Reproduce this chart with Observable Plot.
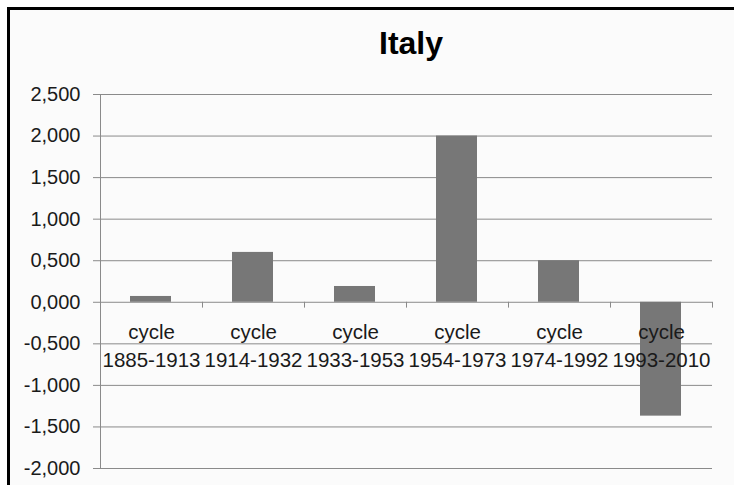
<!DOCTYPE html>
<html>
<head>
<meta charset="utf-8">
<script src="https://cdn.jsdelivr.net/npm/d3@7"></script>
<script src="https://cdn.jsdelivr.net/npm/@observablehq/plot@0.6"></script>
<style>
  html, body { margin: 0; padding: 0; background: #ffffff; }
  #frame {
    position: absolute; left: 7px; top: 7px;
    width: 800px; height: 600px;
    border: 3px solid #000;
    background: #fbfbfb;
    overflow: hidden;
    font-family: "Liberation Sans", Arial, sans-serif;
  }
  #title {
    position: absolute; left: 0; top: 17px; width: 802px;
    text-align: center; font-size: 32px; line-height: 32px; font-weight: bold; color: #000;
  }
  #chart { position: absolute; left: 0; top: 60px; }
</style>
</head>
<body>
<div id="frame">
  <div id="title">Italy</div>
  <div id="chart"></div>
</div>
<script>
const periods = ["1885-1913", "1914-1932", "1933-1953", "1954-1973", "1974-1992", "1993-2010"];
const values = [0.07, 0.60, 0.19, 2.00, 0.50, -1.37];
const yTicks = [-2, -1.5, -1, -0.5, 0, 0.5, 1, 1.5, 2, 2.5];

const data = periods.map((p, i) => ({period: p, value: values[i]}));
const fmt = v => (v < 0 ? "-" : "") + Math.abs(v).toFixed(3).replace(".", ",");
const FONT = "Liberation Sans, Arial, sans-serif";

const chart = Plot.plot({
  width: 724,
  height: 415,
  marginLeft: 90,
  marginRight: 22,
  marginTop: 24,
  marginBottom: 17,
  style: {background: "transparent", fontFamily: FONT, color: "#1a1a1a"},
  x: {domain: periods, padding: 0, axis: null},
  y: {domain: [-2, 2.5], axis: null},
  marks: [
    Plot.ruleY(yTicks, {stroke: "#8a8a8a", strokeWidth: 1}),
    Plot.axisY({ticks: yTicks, tickFormat: fmt, tickSize: 7, tickPadding: 13, fontSize: 20, label: null, stroke: "#8a8a8a", fill: "#1a1a1a"}),
    Plot.ruleX([periods[0]], {dx: -51, y1: -2, y2: 2.5, stroke: "#8a8a8a"}),
    Plot.barY(data, {x: "period", y: "value", fill: "#777777", insetLeft: 30, insetRight: 31}),
    Plot.ruleX(periods, {dx: -51, y1: 0, y2: -0.07, stroke: "#8a8a8a"}),
    Plot.ruleX([periods[periods.length - 1]], {dx: 51, y1: 0, y2: -0.07, stroke: "#8a8a8a"}),
    Plot.text(data, {x: "period", y: () => 0, text: d => "cycle\n" + d.period, dy: 42, lineHeight: 1.36, fontSize: 20.5, fill: "#1a1a1a"})
  ]
});
document.getElementById("chart").appendChild(chart);
</script>
</body>
</html>
